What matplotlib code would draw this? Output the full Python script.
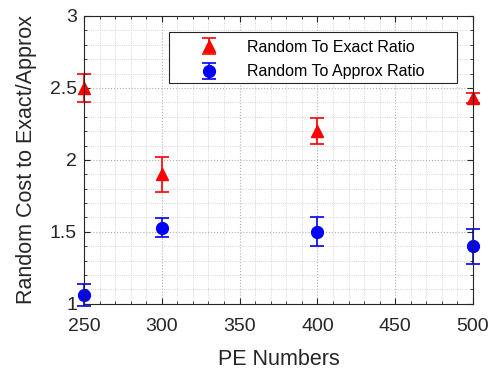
import matplotlib
matplotlib.use("Agg")
import matplotlib.pyplot as plt
from matplotlib.patches import Rectangle
from matplotlib.ticker import MultipleLocator

pe_numbers = [250, 300, 400, 500]
exact_ratio = [2.50, 1.90, 2.20, 2.43]
exact_err = [0.10, 0.12, 0.09, 0.035]
approx_ratio = [1.06, 1.53, 1.50, 1.40]
approx_err = [0.075, 0.065, 0.10, 0.12]

plt.rcParams["font.family"] = ["Liberation Sans", "DejaVu Sans"]
text_col = "#262626"

fig = plt.figure(figsize=(5.0, 3.71), dpi=100)
ax = fig.add_axes([0.168, 0.181, 0.778, 0.776])

for y, err, fmt, col, ms, lab in [
    (exact_ratio, exact_err, "^", "red", 9, "Random To Exact Ratio"),
    (approx_ratio, approx_err, "o", "blue", 8.5, "Random To Approx Ratio"),
]:
    cont = ax.errorbar(pe_numbers, y, yerr=err, fmt=fmt, color=col,
                       markersize=ms, capsize=5, elinewidth=1.2, capthick=1.2,
                       label=lab)
    for artist in cont.get_children():
        artist.set_clip_on(False)

ax.set_xlim(250, 500)
ax.set_ylim(1, 3)
ax.xaxis.set_major_locator(MultipleLocator(50))
ax.xaxis.set_minor_locator(MultipleLocator(10))
ax.yaxis.set_minor_locator(MultipleLocator(0.1))
ax.set_yticks([1, 1.5, 2, 2.5, 3])
ax.set_yticklabels(["1", "1.5", "2", "2.5", "3"])

ax.grid(which="major", linestyle=":", color="#b0b0b0", linewidth=0.8)
ax.grid(which="minor", linestyle=":", color="#c8c8c8", linewidth=0.6)
ax.set_axisbelow(True)

ax.tick_params(which="both", direction="in", top=True, right=True,
               colors=text_col, labelsize=14)
ax.tick_params(which="major", length=4)
ax.tick_params(which="minor", length=2)
ax.tick_params(axis="x", pad=10)
ax.tick_params(axis="y", pad=5)
for s in ax.spines.values():
    s.set_color(text_col)
    s.set_linewidth(0.8)

ax.set_xlabel("PE Numbers", fontsize=15.5, color=text_col, labelpad=10)
ax.set_ylabel("Random Cost to Exact/Approx", fontsize=15.5, color=text_col,
              labelpad=9)

# matlab-style legend box: wider than its contents
ax.add_patch(Rectangle((0.219, 0.767), 0.740, 0.177, transform=ax.transAxes,
                       facecolor="white", edgecolor=text_col, linewidth=0.8,
                       zorder=4.5))
ax.legend(loc="upper left", bbox_to_anchor=(0.280, 0.918), fontsize=11.5,
          frameon=False, handlelength=2, handletextpad=1.4,
          labelspacing=0.62, borderpad=0, borderaxespad=0)

fig.savefig("out.png", dpi=100)
